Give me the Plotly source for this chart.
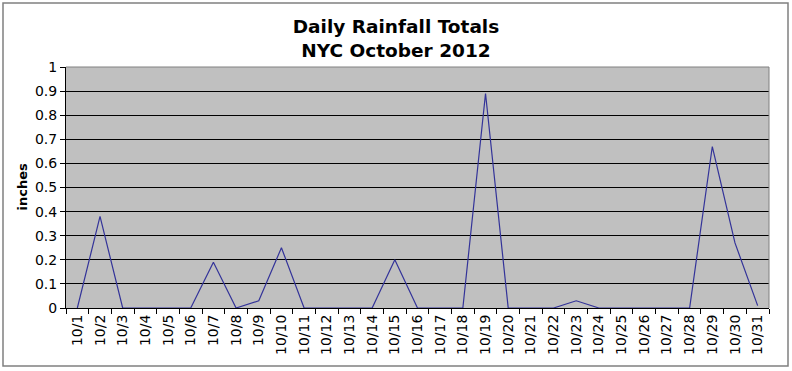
import plotly.graph_objects as go

days = [f"10/{d}" for d in range(1, 32)]
rain = [0, 0.38, 0, 0, 0, 0, 0.19, 0, 0.03, 0.25,
        0, 0, 0, 0, 0.20, 0, 0, 0, 0.89, 0,
        0, 0, 0.03, 0, 0, 0, 0, 0, 0.67, 0.27,
        0.01]
y_ticks = [0, 0.1, 0.2, 0.3, 0.4, 0.5, 0.6, 0.7, 0.8, 0.9, 1]

W, H = 792, 371
L, R, T, B = 66, 23, 67, 63
pw, ph = W - L - R, H - T - B

def px(x):
    return (x - L) / pw

def py(y):
    return (H - B - y) / ph

fig = go.Figure()
fig.add_trace(go.Scatter(x=days, y=rain, mode="lines",
                         line=dict(color="#333399", width=1.2),
                         hoverinfo="skip", showlegend=False))

font = "DejaVu Sans, Verdana, sans-serif"
fig.update_layout(
    width=W, height=H,
    margin=dict(l=L, r=R, t=T, b=B),
    paper_bgcolor="white", plot_bgcolor="#c0c0c0",
    font=dict(family=font, size=14, color="black"),
    title=dict(text="<b>Daily Rainfall Totals<br>NYC October 2012</b>",
               x=px(396), xref="paper", xanchor="center",
               y=1 - 33 / H, yanchor="middle",
               font=dict(size=18.5, family=font, color="black")),
    xaxis=dict(type="category", categoryorder="array", categoryarray=days,
               tickangle=-90, tickson="boundaries", ticks="outside",
               ticklen=5, tickcolor="black", showgrid=False,
               showline=True, linecolor="black", linewidth=1,
               tickfont=dict(size=14), range=[-0.5, 30.5]),
    yaxis=dict(range=[0, 1], tickvals=y_ticks,
               ticktext=[f"{v:g}" for v in y_ticks],
               ticks="outside", ticklen=5, tickcolor="black",
               showgrid=True, gridcolor="black", gridwidth=1,
               showline=True, linecolor="black", linewidth=1,
               zeroline=False, tickfont=dict(size=14)),
    annotations=[dict(text="<b>inches</b>", x=px(22), y=0.5,
                      xref="paper", yref="paper", textangle=-90,
                      showarrow=False, xanchor="center", yanchor="middle",
                      font=dict(size=13, family=font))],
    shapes=[
        dict(type="rect", xref="paper", yref="paper",
             x0=px(3), x1=px(788), y0=py(366), y1=py(3),
             line=dict(color="#808080", width=1.5), fillcolor="rgba(0,0,0,0)"),
        dict(type="line", xref="paper", yref="paper",
             x0=0, x1=1, y0=1, y1=1, line=dict(color="#808080", width=1)),
        dict(type="line", xref="paper", yref="paper",
             x0=1, x1=1, y0=0, y1=1, line=dict(color="#808080", width=1)),
    ],
)

fig.write_html("out.html",
               config={"displayModeBar": False},
               post_script="document.body.style.margin='0';"
                           "document.body.style.overflow='hidden';")
